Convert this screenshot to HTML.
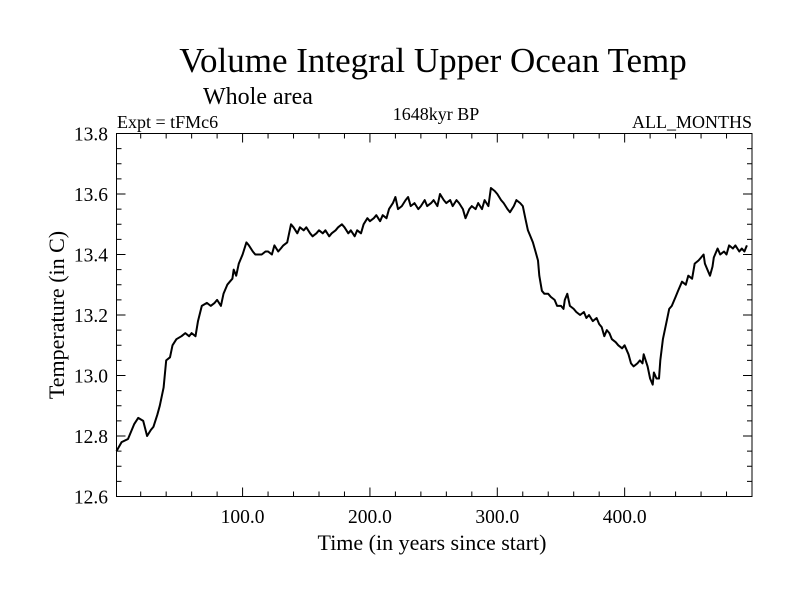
<!DOCTYPE html>
<html><head><meta charset="utf-8"><style>
body{margin:0;background:#fff}
text{font-family:"Liberation Serif",serif;fill:#000}
</style></head><body>
<svg id="chart" width="800" height="600">
<rect width="800" height="600" fill="#fff"/>
<text x="433" y="72" font-size="35" text-anchor="middle">Volume Integral Upper Ocean Temp</text>
<text x="203" y="104" font-size="24">Whole area</text>
<text x="117" y="128" font-size="18">Expt = tFMc6</text>
<text x="436" y="120" font-size="18" text-anchor="middle">1648kyr BP</text>
<text x="752" y="128" font-size="18" text-anchor="end">ALL_MONTHS</text>
<text x="432" y="550" font-size="22" text-anchor="middle">Time (in years since start)</text>
<text transform="translate(64,315) rotate(-90)" font-size="22" text-anchor="middle">Temperature (in C)</text>
<g id="axes"></g>
<path id="line" fill="none" stroke="#000" stroke-width="2" stroke-linejoin="round"/>
<rect x="116.5" y="133.5" width="635.5" height="363" fill="none" stroke="#000" stroke-width="1"/>
</svg>
<script>
const years=[1,5,10,13,15,18,22,25,28,30,33,35,38,40,43,45,48,52,55,58,60,63,65,68,72,75,78,80,83,85,88,90,92,93,95,97,100,103,105,108,110,115,118,120,123,125,128,130,132,135,138,140,143,145,148,150,153,155,158,160,163,165,168,170,173,175,178,180,183,185,188,190,193,195,198,200,203,205,208,210,213,215,218,220,222,225,228,230,232,235,238,240,243,245,248,250,253,255,258,260,263,265,268,270,273,275,278,280,283,285,288,290,293,295,298,300,303,305,308,310,313,315,318,320,322,324,326,328,330,332,333,335,337,340,342,345,347,350,352,353,355,357,360,362,365,368,370,372,375,378,380,382,384,386,388,390,393,395,398,400,402,403,405,407,410,412,414,415,418,420,422,423,425,427,428,430,433,435,437,440,442,445,448,450,453,455,458,460,462,463,465,467,469,470,473,475,478,480,482,485,487,490,492,494,496,498,500];
const temps=[12.75,12.78,12.79,12.82,12.84,12.86,12.85,12.80,12.82,12.83,12.87,12.90,12.96,13.05,13.06,13.10,13.12,13.13,13.14,13.13,13.14,13.13,13.18,13.23,13.24,13.23,13.24,13.25,13.23,13.27,13.30,13.31,13.32,13.35,13.33,13.37,13.40,13.44,13.43,13.41,13.40,13.40,13.41,13.41,13.40,13.43,13.41,13.42,13.43,13.44,13.50,13.49,13.47,13.49,13.48,13.49,13.47,13.46,13.47,13.48,13.47,13.48,13.46,13.47,13.48,13.49,13.50,13.49,13.47,13.48,13.46,13.48,13.47,13.50,13.52,13.51,13.52,13.53,13.51,13.53,13.52,13.55,13.57,13.59,13.55,13.56,13.58,13.59,13.56,13.57,13.55,13.56,13.58,13.56,13.57,13.58,13.56,13.60,13.58,13.57,13.58,13.56,13.58,13.57,13.55,13.52,13.55,13.56,13.55,13.57,13.55,13.58,13.56,13.62,13.61,13.60,13.58,13.57,13.55,13.54,13.56,13.58,13.57,13.56,13.52,13.48,13.46,13.44,13.41,13.38,13.33,13.28,13.27,13.27,13.26,13.25,13.23,13.23,13.22,13.25,13.27,13.23,13.22,13.21,13.20,13.21,13.19,13.20,13.18,13.19,13.17,13.16,13.13,13.15,13.14,13.12,13.11,13.10,13.09,13.10,13.08,13.07,13.04,13.03,13.04,13.05,13.04,13.07,13.03,12.99,12.97,13.01,12.99,12.99,13.05,13.12,13.18,13.22,13.23,13.26,13.28,13.31,13.30,13.33,13.32,13.37,13.38,13.39,13.40,13.37,13.35,13.33,13.36,13.39,13.42,13.40,13.41,13.40,13.43,13.42,13.43,13.41,13.42,13.41,13.43];
const xTickVals=[100,200,300,400];
const xTickLabels=["100.0","200.0","300.0","400.0"];
const yTickVals=[12.6,12.8,13.0,13.2,13.4,13.6,13.8];
const yTickLabels=["12.6","12.8","13.0","13.2","13.4","13.6","13.8"];
const X0=116.5,X1=752,Y0=496.5,Y1=133.5,xmin=1,xmax=500,ymin=12.6,ymax=13.8;
const sx=v=>X0+(v-xmin)/(xmax-xmin)*(X1-X0);
const sy=v=>Y0-(v-ymin)/(ymax-ymin)*(Y0-Y1);
const NS="http://www.w3.org/2000/svg";
const axes=document.getElementById('axes');
function ln(x1,y1,x2,y2,name){const l=document.createElementNS(NS,'line');l.setAttribute('x1',x1);l.setAttribute('y1',y1);l.setAttribute('x2',x2);l.setAttribute('y2',y2);l.setAttribute('stroke','#000');l.setAttribute('stroke-width','1');


axes.appendChild(l);}
function tx(x,y,s,anchor,name){const t=document.createElementNS(NS,'text');t.setAttribute('x',x);t.setAttribute('y',y);t.setAttribute('font-size','19.5');t.setAttribute('text-anchor',anchor);t.textContent=s;


axes.appendChild(t);}
for(let v=20;v<=500;v+=20){const x=sx(v);const major=v%100===0;const L=major?9:5;
ln(x,Y0,x,Y0-L,'x-tick');ln(x,Y1,x,Y1+L,'x-tick-top');}
xTickVals.forEach((v,i)=>tx(sx(v),523,xTickLabels[i],'middle','x-tick-label'));
for(let k=0;k<=24;k++){const v=ymin+k*0.05;const y=sy(v);const major=k%4===0;const L=major?9:5;
ln(X0,y,X0+L,y,'y-tick');ln(X1,y,X1-L,y,'y-tick-right');}
yTickVals.forEach((v,i)=>tx(108,sy(v)+7,yTickLabels[i],'end','y-tick-label'));
document.getElementById('line').setAttribute('d',years.map((y,i)=>(i?'L':'M')+sx(y).toFixed(1)+','+sy(temps[i]).toFixed(1)).join(''));
</script>
</body></html>
